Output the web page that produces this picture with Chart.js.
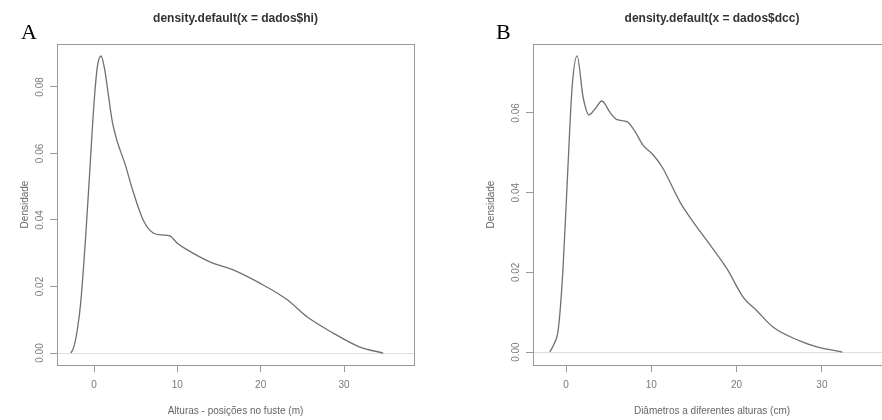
<!DOCTYPE html>
<html>
<head>
<meta charset="utf-8">
<script src="https://cdn.jsdelivr.net/npm/chart.js@4.4.1/dist/chart.umd.min.js"></script>
<style>
  html, body { margin: 0; padding: 0; background: #fff; overflow: hidden; }
  .panel { position: absolute; top: 0; height: 420px; }
</style>
</head>
<body>
<div class="panel" style="left:0;width:441px"><canvas id="chartA" width="441" height="420"></canvas></div>
<div class="panel" style="left:441px;width:460px"><canvas id="chartB" width="460" height="420"></canvas></div>
<script>
// --- DATOS --- //
const xA = [-2.76, -2.4, -2.0, -1.6, -1.0, -0.5, 0.0, 0.4, 0.84, 1.3, 1.7, 2.2, 2.8, 3.7, 4.7, 5.9, 7.1, 8.2, 9.1, 10.0, 11.2, 13.9, 16.7, 19.9, 23.2, 25.6, 28.7, 31.9, 34.7];
const yA = [0, 0.002, 0.007, 0.015, 0.035, 0.055, 0.075, 0.086, 0.0893, 0.085, 0.078, 0.0695, 0.0635, 0.057, 0.0485, 0.040, 0.0361, 0.0355, 0.0352, 0.033, 0.031, 0.0274, 0.025, 0.021, 0.016, 0.0108, 0.006, 0.0018, 0];

const xB = [-1.9, -1.4, -0.9, -0.35, 0.25, 0.7, 1.3, 2.0, 2.7, 3.4, 4.2, 5.2, 6.0, 7.15, 8.1, 9.0, 10.2, 11.25, 13.4, 15.3, 16.5, 18.9, 20.7, 22.4, 24.3, 27.4, 29.4, 32.4];
const yB = [0, 0.002, 0.0058, 0.021, 0.0475, 0.066, 0.0743, 0.064, 0.0595, 0.061, 0.063, 0.060, 0.0583, 0.0578, 0.0553, 0.052, 0.0495, 0.0465, 0.0375, 0.0315, 0.028, 0.0208, 0.014, 0.0103, 0.0062, 0.0028, 0.0013, 0];

const xTicks = [0, 10, 20, 30];
const yTicksA = [0, 0.02, 0.04, 0.06, 0.08];
const yTicksB = [0, 0.02, 0.04, 0.06];

// --- ESTILO --- //
const themeColors = {
    curve: '#707070',
    box: '#9a9a9a',
    zero: '#dedede',
    tick: '#7a7a7a',
    title: '#333333',
    axisTitle: '#666666'
};
const FONT = '"Liberation Sans", Arial, sans-serif';

// Caja alrededor del área del gráfico
const boxPlugin = {
    id: 'boxPlugin',
    afterDatasetsDraw(chart) {
        const { ctx, chartArea: { left, top, right, bottom } } = chart;
        ctx.save();
        ctx.strokeStyle = themeColors.box;
        ctx.lineWidth = 1;
        ctx.strokeRect(left + 0.5, top + 0.5, right - left, bottom - top);
        ctx.restore();
    }
};

// Etiquetas del eje Y giradas (estilo R)
const rotatedYTicks = {
    id: 'rotatedYTicks',
    afterDraw(chart) {
        const { ctx, chartArea, scales: { y } } = chart;
        ctx.save();
        ctx.font = '10px ' + FONT;
        ctx.fillStyle = themeColors.tick;
        ctx.textAlign = 'center';
        ctx.textBaseline = 'middle';
        y.ticks.forEach(t => {
            ctx.save();
            ctx.translate(chartArea.left - 17, y.getPixelForValue(t.value));
            ctx.rotate(-Math.PI / 2);
            ctx.fillText(t.value.toFixed(2), 0, 0);
            ctx.restore();
        });
        ctx.restore();
    }
};

// Letra del panel (A / B)
const panelLetter = {
    id: 'panelLetter',
    afterDraw(chart, args, opts) {
        const { ctx } = chart;
        ctx.save();
        ctx.font = '22px "Liberation Serif", "Times New Roman", serif';
        ctx.fillStyle = '#000';
        ctx.textBaseline = 'alphabetic';
        ctx.fillText(opts.text, opts.x, opts.y);
        ctx.restore();
    }
};

function makePanel(el, p) {
    new Chart(el, {
        type: 'line',
        data: {
            datasets: [{
                data: p.xs.map((x, i) => ({ x, y: p.ys[i] })),
                borderColor: themeColors.curve,
                borderWidth: 1.3,
                pointRadius: 0,
                cubicInterpolationMode: 'monotone',
                fill: false
            }]
        },
        plugins: [boxPlugin, rotatedYTicks, panelLetter],
        options: {
            responsive: false,
            animation: false,
            layout: { padding: { left: 0, right: p.padRight, top: 0, bottom: 0 } },
            plugins: {
                legend: { display: false },
                tooltip: { enabled: false },
                title: {
                    display: true,
                    fullSize: false,
                    text: p.title,
                    color: themeColors.title,
                    font: { family: FONT, size: 12, weight: 'bold' },
                    padding: { top: 11.8, bottom: 17.8 }
                },
                panelLetter: p.letter
            },
            scales: {
                x: {
                    type: 'linear',
                    min: p.xMin,
                    max: p.xMax,
                    afterBuildTicks: s => { s.ticks = xTicks.map(v => ({ value: v })); },
                    afterFit: s => { s.height = 55; },
                    grid: { drawOnChartArea: false, drawTicks: true, tickLength: 7, tickColor: themeColors.box },
                    border: { display: false },
                    ticks: { color: themeColors.tick, font: { family: FONT, size: 10 }, padding: 7, maxRotation: 0 },
                    title: {
                        display: true,
                        text: p.xTitle,
                        color: themeColors.axisTitle,
                        font: { family: FONT, size: 10 },
                        padding: { top: 0, bottom: 3 }
                    }
                },
                y: {
                    type: 'linear',
                    min: p.yMin,
                    max: p.yMax,
                    afterBuildTicks: s => { s.ticks = p.yTicks.map(v => ({ value: v })); },
                    afterFit: s => { s.width = p.yWidth; },
                    grid: {
                        drawOnChartArea: true,
                        color: c => (c.tick && c.tick.value === 0 ? themeColors.zero : 'rgba(0,0,0,0)'),
                        tickColor: themeColors.box,
                        tickLength: 7
                    },
                    border: { display: false },
                    ticks: { display: false },
                    title: {
                        display: true,
                        text: 'Densidade',
                        color: themeColors.axisTitle,
                        font: { family: FONT, size: 10 },
                        padding: { top: p.yTitlePad, bottom: 0 }
                    }
                }
            }
        }
    });
}

makePanel(document.getElementById('chartA'), {
    xs: xA, ys: yA, yTicks: yTicksA,
    title: 'density.default(x = dados$hi)',
    xTitle: 'Alturas - posições no fuste (m)',
    xMin: -4.44, xMax: 38.4, yMin: -0.0036, yMax: 0.0929,
    padRight: 27, yWidth: 57, yTitlePad: 19,
    letter: { text: 'A', x: 21, y: 39 }
});

makePanel(document.getElementById('chartB'), {
    xs: xB, ys: yB, yTicks: yTicksB,
    title: 'density.default(x = dados$dcc)',
    xTitle: 'Diâmetros a diferentes alturas (cm)',
    xMin: -3.87, xMax: 38.1, yMin: -0.00325, yMax: 0.0773,
    padRight: 10, yWidth: 92, yTitlePad: 44,
    letter: { text: 'B', x: 55, y: 39 }
});
</script>
</body>
</html>
